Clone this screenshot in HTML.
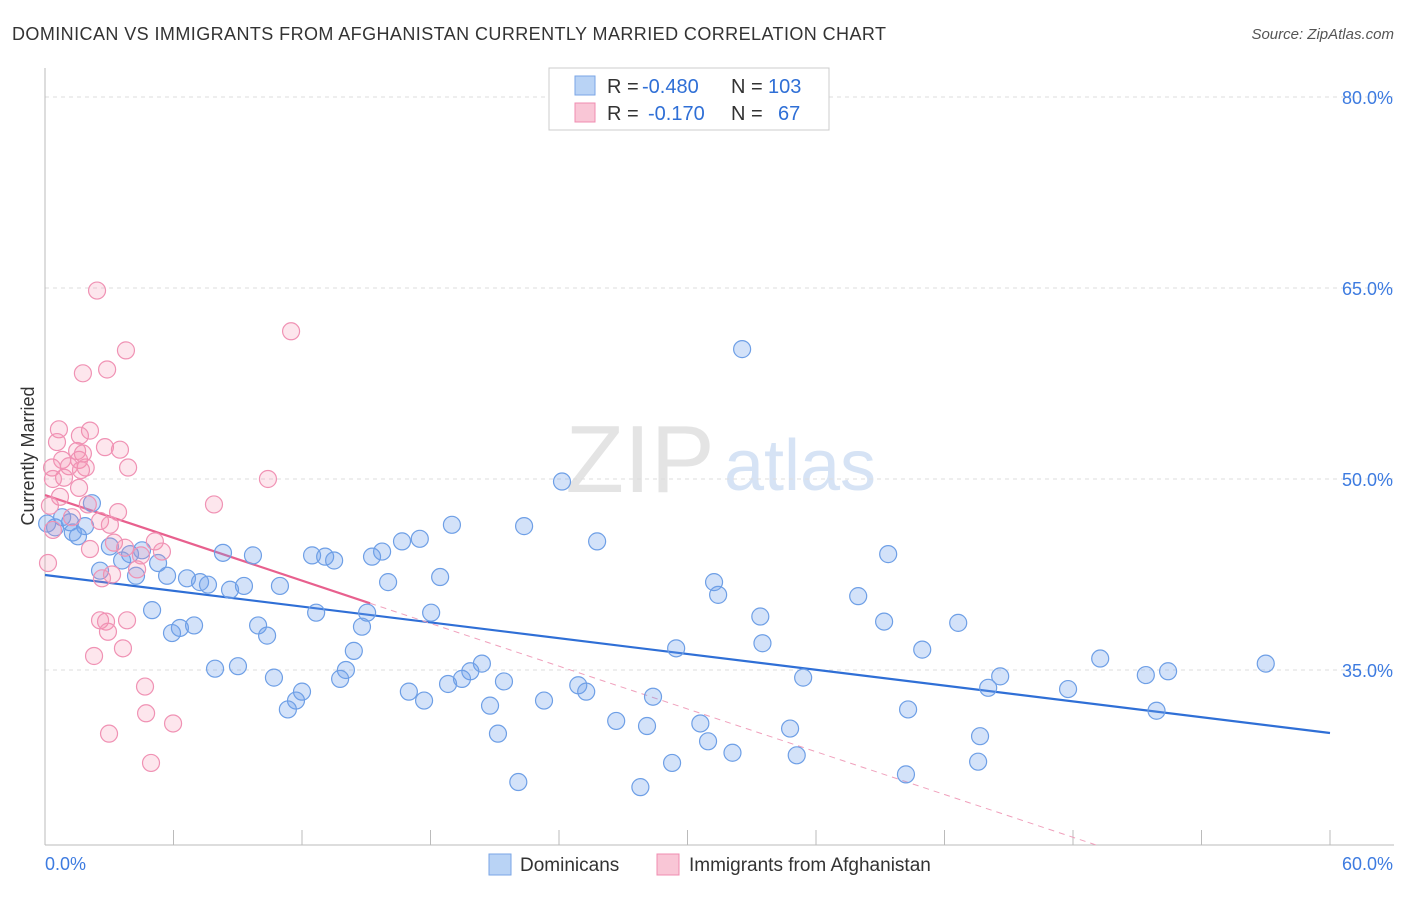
<!DOCTYPE html>
<html><head><meta charset="utf-8"><style>
body{margin:0;background:#fff;font-family:"Liberation Sans",sans-serif;}
svg text{font-family:"Liberation Sans",sans-serif;}
</style></head><body>
<svg id="chart" width="1406" height="892">
<text x="12" y="40" font-size="18" fill="#333" textLength="874">DOMINICAN VS IMMIGRANTS FROM AFGHANISTAN CURRENTLY MARRIED CORRELATION CHART</text>
<text x="1394" y="39" font-size="15" fill="#555" font-style="italic" text-anchor="end">Source: ZipAtlas.com</text>
<text x="34" y="456" font-size="18" fill="#333" transform="rotate(-90 34 456)" text-anchor="middle">Currently Married</text>
<text x="640" y="492" font-size="96" fill="#e4e4e4" font-family="Liberation Serif" text-anchor="middle">ZIP</text>
<text x="800" y="490" font-size="72" fill="#d6e3f5" text-anchor="middle">atlas</text>
<g id="grid"></g><g id="ticks"></g><g id="trends"></g><g id="pts"></g>
<g>
<rect x="549" y="68" width="280" height="62" fill="#fff" stroke="#ccc"/>
<rect x="575" y="76" width="20" height="19" fill="#b9d3f5" stroke="#7aa6e6"/>
<rect x="575" y="103" width="20" height="19" fill="#f9c6d6" stroke="#f08cb0"/>
<text y="93" font-size="20" fill="#333"><tspan x="607">R =</tspan><tspan x="642" fill="#2f6fd6">-0.480</tspan><tspan x="731">N =</tspan><tspan x="768" fill="#2f6fd6">103</tspan></text>
<text y="120" font-size="20" fill="#333"><tspan x="607">R =</tspan><tspan x="648" fill="#2f6fd6">-0.170</tspan><tspan x="731">N =</tspan><tspan x="778" fill="#2f6fd6">67</tspan></text>
</g>
<g>
<rect x="489" y="854" width="22" height="21" fill="#b9d3f5" stroke="#7aa6e6"/>
<text x="520" y="871" font-size="19" fill="#333">Dominicans</text>
<rect x="657" y="854" width="22" height="21" fill="#f9c6d6" stroke="#f08cb0"/>
<text x="689" y="871" font-size="19" fill="#333">Immigrants from Afghanistan</text>
</g>
<text x="45" y="870" font-size="18" fill="#3d7be0">0.0%</text>
<text x="1393" y="870" font-size="18" fill="#3d7be0" text-anchor="end">60.0%</text>
</svg>
<script>
const yTicks=[80,65,50,35];
const xTicks=[0,6,12,18,24,30,36,42,48,54,60];
const blueX=[32.55,24.14,2.19,19.0,22.37,0.47,1.17,1.87,1.54,17.5,16.67,25.78,3.03,15.74,8.31,9.71,12.47,13.08,13.5,15.27,39.37,3.97,4.53,3.6,5.28,2.57,4.25,5.7,6.63,7.24,7.61,8.64,9.29,10.97,16.02,18.45,31.24,31.43,37.97,5.0,12.66,15.04,18.03,33.4,39.18,42.64,5.93,6.3,6.96,9.95,10.37,14.8,29.47,33.5,40.96,14.42,49.27,57.0,52.44,51.4,7.94,9.01,14.05,20.4,19.86,19.47,18.82,13.78,10.69,35.4,44.6,44.04,47.77,21.43,24.9,25.27,12.0,11.72,11.34,16.99,17.7,20.78,23.3,28.39,51.9,40.3,26.67,28.11,30.6,34.79,21.15,30.96,43.66,32.1,35.1,29.28,43.57,40.2,22.1,27.8,0.1,0.8,1.3];
const blueY=[60.2,49.8,48.1,46.4,46.3,46.2,46.6,46.3,45.5,45.3,45.1,45.1,44.7,44.3,44.2,44.0,44.0,43.9,43.6,43.9,44.1,44.1,44.4,43.6,43.4,42.8,42.4,42.4,42.2,41.9,41.7,41.3,41.6,41.6,41.9,42.3,41.9,40.9,40.8,39.7,39.5,39.5,39.5,39.2,38.8,38.7,37.9,38.3,38.5,38.5,37.7,38.4,36.7,37.1,36.6,36.5,35.9,35.5,34.9,34.6,35.1,35.3,35.0,35.5,34.9,34.3,33.9,34.3,34.4,34.4,34.5,33.6,33.5,34.1,33.8,33.3,33.3,32.6,31.9,33.3,32.6,32.2,32.6,32.9,31.8,31.9,31.0,30.6,30.8,30.4,30.0,29.4,29.8,28.5,28.3,27.7,27.8,26.8,26.2,25.8,46.5,47.0,45.8];
const pinkX=[2.43,11.49,3.78,1.77,2.9,0.65,2.1,1.63,0.56,2.8,3.5,1.5,1.77,1.59,0.8,1.12,1.9,3.88,1.68,0.33,10.41,0.89,0.37,1.59,0.7,7.89,2.0,0.23,3.41,1.26,2.57,3.03,0.37,3.22,5.13,2.1,3.74,5.46,4.48,0.14,4.3,3.13,2.66,2.57,2.85,3.83,2.94,3.64,2.29,4.67,4.72,5.98,2.99,4.95];
const pinkY=[64.8,61.6,60.1,58.3,58.6,53.9,53.8,53.4,52.9,52.5,52.3,52.2,52.0,51.5,51.5,51.0,50.9,50.9,50.7,50.9,50.0,50.1,50.0,49.3,48.6,48.0,48.0,47.9,47.4,47.0,46.7,46.4,46.0,45.0,45.1,44.5,44.6,44.3,44.0,43.4,42.9,42.5,42.2,38.9,38.8,38.9,38.0,36.7,36.1,33.7,31.6,30.8,30.0,27.7];
const blueTrend=[42.46,30.05];
const pinkTrend=[48.74,-0.56];
const NS="http://www.w3.org/2000/svg";
const X=v=>45+v/60*1285, Y=v=>97+(80-v)*12.733;
function mk(t,a,p){const e=document.createElementNS(NS,t);for(const k in a)e.setAttribute(k,a[k]);p.appendChild(e);return e;}
const grid=document.getElementById('grid');
yTicks.forEach(v=>{
 const l=mk('line',{x1:45,x2:1394,y1:Y(v),y2:Y(v),stroke:'#ddd','stroke-dasharray':'4,4'},grid);
 
 
 const t=mk('text',{x:1393,y:Y(v)+7,'font-size':18,fill:'#3d7be0','text-anchor':'end'},grid);t.textContent=v.toFixed(1)+'%';
 
 
});
const tk=document.getElementById('ticks');
mk('line',{x1:45,x2:45,y1:68,y2:845,stroke:'#bbb'},tk);
mk('line',{x1:45,x2:1394,y1:845,y2:845,stroke:'#bbb'},tk);
xTicks.forEach(v=>{const l=mk('line',{x1:X(v),x2:X(v),y1:830,y2:845,stroke:'#bbb'},tk);
 
 });
const pts=document.getElementById('pts');
blueX.forEach((x,i)=>{const c=mk('circle',{cx:X(x),cy:Y(blueY[i]),r:8.5,fill:'rgba(110,160,235,0.3)',stroke:'#6e9fe6','stroke-width':1.2},pts);
 
 });
pinkX.forEach((x,i)=>{const c=mk('circle',{cx:X(x),cy:Y(pinkY[i]),r:8.5,fill:'rgba(245,140,175,0.22)',stroke:'#f092b4','stroke-width':1.2},pts);
 
 });
const tr=document.getElementById('trends');
const b=mk('line',{x1:X(0),y1:Y(blueTrend[0]),x2:X(60),y2:Y(blueTrend[1]),stroke:'#2f6fd6','stroke-width':2.2},tr);


const pe=15.18, pEnd=(21.26-pinkTrend[0])/pinkTrend[1];
const pd=mk('line',{x1:X(pe),y1:Y(pinkTrend[0]+pinkTrend[1]*pe),x2:X(pEnd),y2:Y(21.26),stroke:'#f0a0bc','stroke-width':1,'stroke-dasharray':'6,5'},tr);


const p=mk('line',{x1:X(0),y1:Y(pinkTrend[0]),x2:X(pe),y2:Y(pinkTrend[0]+pinkTrend[1]*pe),stroke:'#e8608e','stroke-width':2.2},tr);


</script>
</body></html>
